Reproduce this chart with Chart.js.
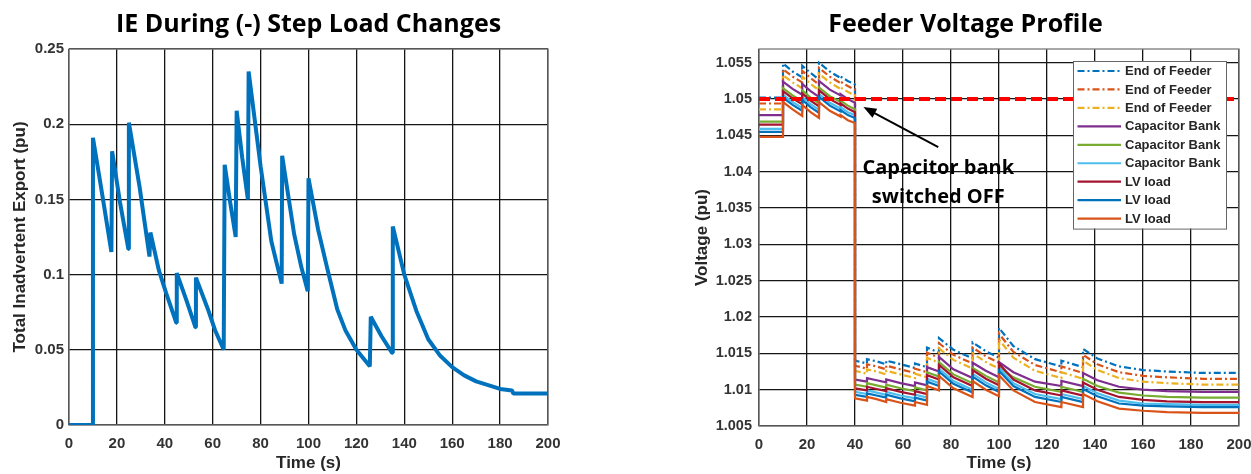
<!DOCTYPE html>
<html><head><meta charset="utf-8">
<script src="https://cdn.jsdelivr.net/npm/chart.js@4.4.1/dist/chart.umd.min.js"></script>
<style>
html,body{margin:0;padding:0;background:#fff;overflow:hidden;width:1251px;height:474px;position:relative;}
#c1{position:absolute;left:0;top:0;}
#c2{position:absolute;left:625px;top:0;}
</style></head><body>
<canvas id="c1" width="625" height="474"></canvas>
<canvas id="c2" width="660" height="474"></canvas>
<script>
// ---------- Left chart data ----------
const IE_TITLE = 'IE During (-) Step Load Changes';
const IE_YTITLE = 'Total Inadvertent Export (pu)';
const X_TITLE = 'Time (s)';
const X_TICKS = [0, 20, 40, 60, 80, 100, 120, 140, 160, 180, 200];
const X_LABELS = ['0', '20', '40', '60', '80', '100', '120', '140', '160', '180', '200'];
const IE_Y_TICKS = [0, 0.05, 0.1, 0.15, 0.2, 0.25];
const IE_Y_LABELS = ['0', '0.05', '0.1', '0.15', '0.2', '0.25'];
const IE_T = [0, 10, 10, 14, 17.7, 18, 21.3, 24.8, 25, 29.5, 33.6, 34, 37.5, 40.5, 44.8, 45, 49, 52.8, 53, 58,
  61, 64.6, 65, 67.3, 69.6, 70, 72.3, 74.7, 75, 80, 84.5, 88.8, 89, 94, 97, 99.7, 100, 104, 108, 112,
  115.5, 120, 125.6, 126, 130.5, 134.9, 135.2, 140, 145, 150, 155, 160, 165, 170, 180, 185, 185.5, 200];
const IE_V = [0, 0, 0.191, 0.152, 0.115, 0.182, 0.148, 0.117, 0.201, 0.158, 0.112, 0.128, 0.103, 0.088, 0.068, 0.101, 0.083, 0.065, 0.098, 0.077,
  0.063, 0.050, 0.173, 0.148, 0.125, 0.209, 0.178, 0.150, 0.235, 0.172, 0.122, 0.094, 0.179, 0.127, 0.105, 0.089, 0.164, 0.130, 0.103, 0.077,
  0.0626, 0.050, 0.039, 0.072, 0.059, 0.048, 0.132, 0.100, 0.076, 0.057, 0.046, 0.0385, 0.033, 0.029, 0.024, 0.023, 0.021, 0.021];

// ---------- Right chart data ----------
const VP_TITLE = 'Feeder Voltage Profile';
const VP_YTITLE = 'Voltage (pu)';
const VP_Y_TICKS = [1.005, 1.01, 1.015, 1.02, 1.025, 1.03, 1.035, 1.04, 1.045, 1.05, 1.055];
const VP_Y_LABELS = ['1.005', '1.01', '1.015', '1.02', '1.025', '1.03', '1.035', '1.04', '1.045', '1.05', '1.055'];
const VP_T = [0, 10, 10, 14, 18, 18, 21.5, 25, 25, 29.5, 34, 34, 37, 40, 40, 45, 45, 49, 53, 53, 59, 65, 65, 70, 70,
  75, 75, 81, 89, 89, 94.5, 100, 100, 106, 115, 126, 126, 135, 135, 141, 150, 160, 170, 185, 200];
const EOF_1 = [1.0502, 1.0502, 1.0549, 1.0538, 1.0530, 1.0546, 1.0536, 1.0527, 1.0550, 1.0538, 1.0529, 1.0531, 1.0525, 1.0520, 1.0140,
  1.0136, 1.0142, 1.0139, 1.0135, 1.0140, 1.0135, 1.0130, 1.0136, 1.0131, 1.0158, 1.0151, 1.0171, 1.0155, 1.0143, 1.0165,
  1.0153, 1.0144, 1.0185, 1.0160, 1.0142, 1.0132, 1.0140, 1.0131, 1.0156, 1.0143, 1.0132, 1.0127, 1.0125, 1.0123, 1.0123];
const EOF_2 = [1.0494, 1.0494, 1.0541, 1.0531, 1.0523, 1.0539, 1.0529, 1.0520, 1.0543, 1.0531, 1.0522, 1.0524, 1.0518, 1.0513, 1.0133,
  1.0129, 1.0135, 1.0132, 1.0128, 1.0133, 1.0128, 1.0123, 1.0129, 1.0124, 1.0151, 1.0144, 1.0164, 1.0148, 1.0136, 1.0158,
  1.0146, 1.0137, 1.0177, 1.0152, 1.0134, 1.0124, 1.0132, 1.0123, 1.0148, 1.0135, 1.0124, 1.0119, 1.0117, 1.0115, 1.0115];
const EOF_3 = [1.0486, 1.0486, 1.0533, 1.0523, 1.0515, 1.0531, 1.0521, 1.0512, 1.0535, 1.0523, 1.0514, 1.0516, 1.0510, 1.0505, 1.0126,
  1.0122, 1.0128, 1.0125, 1.0121, 1.0126, 1.0121, 1.0116, 1.0122, 1.0117, 1.0144, 1.0137, 1.0157, 1.0141, 1.0129, 1.0150,
  1.0138, 1.0129, 1.0169, 1.0144, 1.0126, 1.0116, 1.0124, 1.0115, 1.0140, 1.0127, 1.0116, 1.0111, 1.0109, 1.0107, 1.0107];
const CAP_1 = [1.0478, 1.0478, 1.0524, 1.0514, 1.0506, 1.0521, 1.0511, 1.0503, 1.0525, 1.0513, 1.0505, 1.0507, 1.0500, 1.0495, 1.0114,
  1.0111, 1.0116, 1.0113, 1.0110, 1.0114, 1.0109, 1.0105, 1.0110, 1.0106, 1.0131, 1.0125, 1.0145, 1.0128, 1.0116, 1.0137,
  1.0126, 1.0117, 1.0138, 1.0124, 1.0111, 1.0105, 1.0112, 1.0105, 1.0123, 1.0113, 1.0104, 1.0100, 1.0098, 1.0097, 1.0097];
const CAP_2 = [1.0469, 1.0469, 1.0515, 1.0505, 1.0497, 1.0512, 1.0502, 1.0494, 1.0516, 1.0504, 1.0496, 1.0498, 1.0491, 1.0486, 1.0107,
  1.0104, 1.0109, 1.0106, 1.0103, 1.0107, 1.0102, 1.0098, 1.0103, 1.0099, 1.0124, 1.0118, 1.0138, 1.0121, 1.0109, 1.0130,
  1.0119, 1.0110, 1.0131, 1.0117, 1.0104, 1.0097, 1.0104, 1.0097, 1.0115, 1.0105, 1.0096, 1.0092, 1.0090, 1.0089, 1.0089];
const CAP_3 = [1.0459, 1.0459, 1.0506, 1.0496, 1.0488, 1.0503, 1.0493, 1.0485, 1.0507, 1.0495, 1.0487, 1.0489, 1.0482, 1.0478, 1.0097,
  1.0094, 1.0099, 1.0096, 1.0093, 1.0097, 1.0092, 1.0088, 1.0093, 1.0089, 1.0115, 1.0109, 1.0129, 1.0112, 1.0100, 1.0122,
  1.0110, 1.0101, 1.0130, 1.0109, 1.0094, 1.0087, 1.0094, 1.0087, 1.0105, 1.0095, 1.0085, 1.0081, 1.0080, 1.0079, 1.0079];
const LV_1 = [1.0465, 1.0465, 1.0511, 1.0501, 1.0493, 1.0508, 1.0498, 1.0490, 1.0512, 1.0500, 1.0492, 1.0494, 1.0487, 1.0482, 1.0102,
  1.0099, 1.0104, 1.0101, 1.0098, 1.0102, 1.0097, 1.0093, 1.0098, 1.0094, 1.0120, 1.0114, 1.0134, 1.0117, 1.0105, 1.0127,
  1.0115, 1.0106, 1.0136, 1.0114, 1.0099, 1.0092, 1.0099, 1.0092, 1.0110, 1.0100, 1.0090, 1.0086, 1.0084, 1.0083, 1.0083];
const LV_2 = [1.0455, 1.0455, 1.0502, 1.0492, 1.0484, 1.0499, 1.0489, 1.0481, 1.0503, 1.0491, 1.0483, 1.0485, 1.0478, 1.0474, 1.0093,
  1.0090, 1.0095, 1.0092, 1.0089, 1.0093, 1.0088, 1.0084, 1.0089, 1.0085, 1.0111, 1.0105, 1.0125, 1.0108, 1.0096, 1.0118,
  1.0106, 1.0097, 1.0126, 1.0105, 1.0090, 1.0083, 1.0090, 1.0083, 1.0101, 1.0091, 1.0081, 1.0078, 1.0077, 1.0076, 1.0076];
const LV_3 = [1.0448, 1.0448, 1.0496, 1.0486, 1.0477, 1.0492, 1.0482, 1.0474, 1.0496, 1.0484, 1.0476, 1.0478, 1.0471, 1.0467, 1.0088,
  1.0085, 1.0090, 1.0087, 1.0083, 1.0087, 1.0082, 1.0078, 1.0083, 1.0079, 1.0105, 1.0099, 1.0119, 1.0102, 1.0090, 1.0112,
  1.0100, 1.0091, 1.0120, 1.0099, 1.0083, 1.0076, 1.0083, 1.0076, 1.0094, 1.0084, 1.0074, 1.0071, 1.0069, 1.0068, 1.0068];
const VP_SERIES_NAMES = ['End of Feeder', 'End of Feeder', 'End of Feeder', 'Capacitor Bank', 'Capacitor Bank', 'Capacitor Bank', 'LV load', 'LV load', 'LV load'];
const VP_SERIES_VALUES = [EOF_1, EOF_2, EOF_3, CAP_1, CAP_2, CAP_3, LV_1, LV_2, LV_3];
const LIMIT_T = [0, 200];
const LIMIT_V = [1.05, 1.05];
const NOTE_LINES = ['Capacitor bank', 'switched OFF'];

// ---------- Styles / positions ----------
const SERIES_COLORS = ['#0072BD', '#D95319', '#EDB120', '#7E2F8E', '#77AC30', '#4DBEEE', '#A2142F', '#0072BD', '#D95319'];
const SERIES_DASH = [[7, 3, 2, 3], [7, 3, 2, 3], [7, 3, 2, 3], [], [], [], [], [], []];
const NOTE_TEXT_POS = [[74.7, 1.0405], [74.7, 1.0365]];
const ARROW_TAIL = [74.7, 1.0434];
const ARROW_HEAD = [43.5, 1.0489];

const TICK_FONT = '"Liberation Sans", Arial, sans-serif';
const TITLE_FONT = '"Open Sans", "Liberation Sans", sans-serif';
const GRID_COLOR = '#151515';

function pairs(xs, ys) { return xs.map((x, i) => ({x: x, y: ys[i]})); }

const framePlugin = {
  id: 'frame',
  beforeDatasetsDraw(chart) {
    const {ctx, chartArea: a} = chart;
    ctx.save();
    ctx.strokeStyle = '#7a7a7a';
    ctx.lineWidth = 1.3;
    ctx.strokeRect(a.left, a.top, a.right - a.left, a.bottom - a.top);
    ctx.restore();
  }
};

function xScale(h, pad) {
  return {
    type: 'linear', min: 0, max: 200,
    afterBuildTicks: s => { s.ticks = X_TICKS.map(v => ({value: v})); },
    afterFit: s => { s.height = h; },
    ticks: {
      callback: (v, i) => X_LABELS[i], autoSkip: false, maxRotation: 0, padding: pad,
      color: '#333', font: {family: TICK_FONT, size: 15, weight: 'bold'}
    },
    grid: {color: GRID_COLOR, lineWidth: 1.3, drawTicks: false},
    border: {display: false},
    title: {display: true, text: X_TITLE, color: '#262626', padding: {top: 0, bottom: 0},
      font: {family: TICK_FONT, size: 17, weight: 'bold'}}
  };
}

// ---------- Left chart ----------
new Chart(document.getElementById('c1'), {
  type: 'line',
  data: {
    datasets: [{
      data: pairs(IE_T, IE_V), borderColor: '#0072BD', borderWidth: 4,
      pointRadius: 0, tension: 0, fill: false, borderJoinStyle: 'bevel'
    }]
  },
  options: {
    responsive: false, animation: false,
    layout: {padding: {left: 0, right: 77, top: 0, bottom: 0}},
    plugins: {
      legend: {display: false}, tooltip: {enabled: false},
      title: {display: true, text: IE_TITLE, fullSize: false, color: '#000',
        font: {family: TITLE_FONT, size: 25, weight: 'bold'}, padding: {top: 10, bottom: 9}}
    },
    scales: {
      x: xScale(49, 10),
      y: {
        type: 'linear', min: 0, max: 0.25,
        afterBuildTicks: s => { s.ticks = IE_Y_TICKS.map(v => ({value: v})); },
        afterFit: s => { s.width = 69; },
        ticks: {callback: (v, i) => IE_Y_LABELS[i], autoSkip: false, padding: 5, color: '#333',
          font: {family: TICK_FONT, size: 15, weight: 'bold'}},
        grid: {color: GRID_COLOR, lineWidth: 1.3, drawTicks: false},
        border: {display: false},
        title: {display: true, text: IE_YTITLE, color: '#262626', padding: {top: 10, bottom: 0},
          font: {family: TICK_FONT, size: 17, weight: 'bold'}}
      }
    }
  },
  plugins: [framePlugin]
});

// ---------- Right chart ----------
const annotationPlugin = {
  id: 'note',
  afterDatasetsDraw(chart) {
    const {ctx} = chart;
    const xs = chart.scales.x, ys = chart.scales.y;
    const x1 = xs.getPixelForValue(ARROW_TAIL[0]), y1 = ys.getPixelForValue(ARROW_TAIL[1]);
    const x2 = xs.getPixelForValue(ARROW_HEAD[0]), y2 = ys.getPixelForValue(ARROW_HEAD[1]);
    const ang = Math.atan2(y2 - y1, x2 - x1);
    const hl = 13, hw = 5;
    ctx.save();
    ctx.strokeStyle = '#000'; ctx.fillStyle = '#000'; ctx.lineWidth = 2;
    ctx.beginPath();
    ctx.moveTo(x1, y1);
    ctx.lineTo(x2 - Math.cos(ang) * hl * 0.8, y2 - Math.sin(ang) * hl * 0.8);
    ctx.stroke();
    ctx.beginPath();
    ctx.moveTo(x2, y2);
    ctx.lineTo(x2 - Math.cos(ang) * hl - Math.sin(ang) * hw, y2 - Math.sin(ang) * hl + Math.cos(ang) * hw);
    ctx.lineTo(x2 - Math.cos(ang) * hl + Math.sin(ang) * hw, y2 - Math.sin(ang) * hl - Math.cos(ang) * hw);
    ctx.closePath();
    ctx.fill();
    ctx.font = 'bold 20px ' + TITLE_FONT;
    ctx.textAlign = 'center'; ctx.textBaseline = 'middle';
    NOTE_LINES.forEach((t, i) => {
      ctx.fillText(t, xs.getPixelForValue(NOTE_TEXT_POS[i][0]), ys.getPixelForValue(NOTE_TEXT_POS[i][1]));
    });
    ctx.restore();
  }
};

const boxLegendPlugin = {
  id: 'boxLegend',
  afterDraw(chart) {
    const {ctx, chartArea: a} = chart;
    const items = chart.data.datasets.filter(d => d.label);
    const left = a.right - 166, top = a.top + 12, w = 153, step = 18.45;
    const h = 20 + step * (items.length - 1);
    ctx.save();
    ctx.fillStyle = '#fff';
    ctx.fillRect(left, top, w, h);
    ctx.strokeStyle = '#666'; ctx.lineWidth = 1;
    ctx.strokeRect(left + 0.5, top + 0.5, w, h);
    ctx.font = 'bold 13px ' + TICK_FONT;
    ctx.textAlign = 'left'; ctx.textBaseline = 'middle';
    items.forEach((d, i) => {
      const y = top + 10 + step * i;
      ctx.strokeStyle = d.borderColor; ctx.lineWidth = 2.2;
      ctx.setLineDash(d.borderDash || []);
      ctx.beginPath(); ctx.moveTo(left + 4.5, y); ctx.lineTo(left + 48, y); ctx.stroke();
      ctx.setLineDash([]);
      ctx.fillStyle = '#262626';
      ctx.fillText(d.label, left + 52, y + 0.5);
    });
    ctx.restore();
  }
};

const vpDatasets = VP_SERIES_VALUES.map((vals, i) => ({
  label: VP_SERIES_NAMES[i], data: pairs(VP_T, vals), borderColor: SERIES_COLORS[i],
  borderDash: SERIES_DASH[i], borderWidth: 2.2, pointRadius: 0, tension: 0, fill: false,
  order: 20 - i
}));
vpDatasets.push({
  data: pairs(LIMIT_T, LIMIT_V), borderColor: '#FF0000', borderWidth: 4, borderDash: [11, 5],
  pointRadius: 0, tension: 0, fill: false, order: 0
});

new Chart(document.getElementById('c2'), {
  type: 'line',
  data: {datasets: vpDatasets},
  options: {
    responsive: false, animation: false,
    layout: {padding: {left: 67, right: 46, top: 0, bottom: 0}},
    plugins: {
      legend: {display: false}, tooltip: {enabled: false},
      title: {display: true, text: VP_TITLE, fullSize: true, color: '#000',
        font: {family: TITLE_FONT, size: 25, weight: 'bold'}, padding: {top: 10, bottom: 9}}
    },
    scales: {
      x: xScale(48, 10),
      y: {
        type: 'linear', min: 1.005, max: 1.0569,
        afterBuildTicks: s => { s.ticks = VP_Y_TICKS.map(v => ({value: v})); },
        afterFit: s => { s.width = 67; },
        ticks: {callback: (v, i) => VP_Y_LABELS[i], autoSkip: false, padding: 7, color: '#333',
          font: {family: TICK_FONT, size: 14.5, weight: 'bold'}},
        grid: {color: GRID_COLOR, lineWidth: 1.3, drawTicks: false},
        border: {display: false},
        title: {display: true, text: VP_YTITLE, color: '#262626', padding: {top: 0, bottom: 0},
          font: {family: TICK_FONT, size: 17, weight: 'bold'}}
      }
    }
  },
  plugins: [framePlugin, annotationPlugin, boxLegendPlugin]
});
</script>
</body></html>
